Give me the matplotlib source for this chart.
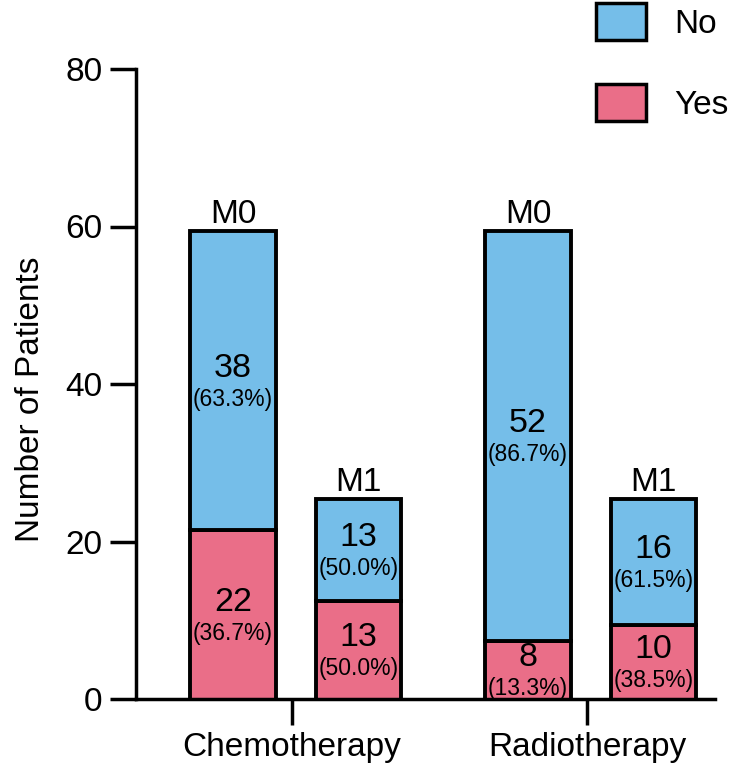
import matplotlib
matplotlib.use("Agg")
import matplotlib.pyplot as plt
from matplotlib.patches import Patch

plt.rcParams['font.family'] = ['Liberation Sans', 'DejaVu Sans']

# ---- data ----
treatments = ["Chemotherapy", "Radiotherapy"]
stages = ["M0", "M1"]
yes_counts = [[22, 13], [8, 10]]     # per treatment: [M0, M1]
no_counts = [[38, 13], [52, 16]]
yes_pct = [["36.7%", "50.0%"], ["13.3%", "38.5%"]]
no_pct = [["63.3%", "50.0%"], ["86.7%", "61.5%"]]
series_labels = ["No", "Yes"]
yticks = [0, 20, 40, 60, 80]

blue = "#75BEE9"
pink = "#EA6E88"

W, H = 734, 769
fig = plt.figure(figsize=(W / 100, H / 100), dpi=100)
ax = fig.add_axes([136 / W, (H - 699) / H, 579 / W, 630 / H])

offsets = [-0.2, 0.225]
width = 0.29
edge_lw = 2.8
big = 24
base = -0.6   # bars start just under the axis line, as in the original

for ti, t in enumerate(treatments):
    for si, s in enumerate(stages):
        x = ti + offsets[si]
        y = yes_counts[ti][si]
        n = no_counts[ti][si]
        ax.bar(x, y, bottom=base, width=width, color=pink, edgecolor="black",
               linewidth=edge_lw, zorder=2, clip_on=True)
        ax.bar(x, n, bottom=base + y, width=width, color=blue, edgecolor="black",
               linewidth=edge_lw, zorder=2)
        # segment labels
        for bottom, h, pct in [(base, y, yes_pct[ti][si]), (base + y, n, no_pct[ti][si])]:
            mid = max(bottom, 0) + (bottom + h - max(bottom, 0)) / 2
            ax.annotate(str(h), (x, mid), xytext=(0, 9), textcoords="offset points",
                        ha="center", va="center", fontsize=24.5, zorder=3)
            ax.annotate("(" + pct + ")", (x, mid), xytext=(0, -13.5), textcoords="offset points",
                        ha="center", va="center", fontsize=16.5, zorder=3)
        ax.annotate(s, (x, base + y + n), xytext=(0, 6), textcoords="offset points",
                    ha="center", va="baseline", fontsize=big)

ax.set_xlim(-0.5288, 1.4339)
ax.set_ylim(0, 80)
ax.set_yticks(yticks)
ax.set_xticks(range(len(treatments)))
ax.set_xticklabels(treatments)

for side in ["top", "right"]:
    ax.spines[side].set_visible(False)
for side in ["left", "bottom"]:
    ax.spines[side].set_linewidth(2.5)
    ax.spines[side].set_zorder(4)
ax.tick_params(axis="y", length=19, width=2.5, labelsize=big, pad=5)
ax.tick_params(axis="x", length=19, width=2.5, labelsize=big, pad=5)

ax.set_ylabel("Number of Patients", fontsize=big)
ax.yaxis.set_label_coords(-0.155, 0.476)

handles = [Patch(facecolor=blue, edgecolor="black", linewidth=2.5),
           Patch(facecolor=pink, edgecolor="black", linewidth=2.5)]
fig.legend(handles, series_labels, loc="upper left",
           bbox_to_anchor=(596 / W, 1 - 3 / H), frameon=False, fontsize=big,
           handlelength=1.5, handleheight=1.33, handletextpad=0.85,
           labelspacing=1.32, borderpad=0, borderaxespad=0)

fig.savefig("out.png", dpi=100)
